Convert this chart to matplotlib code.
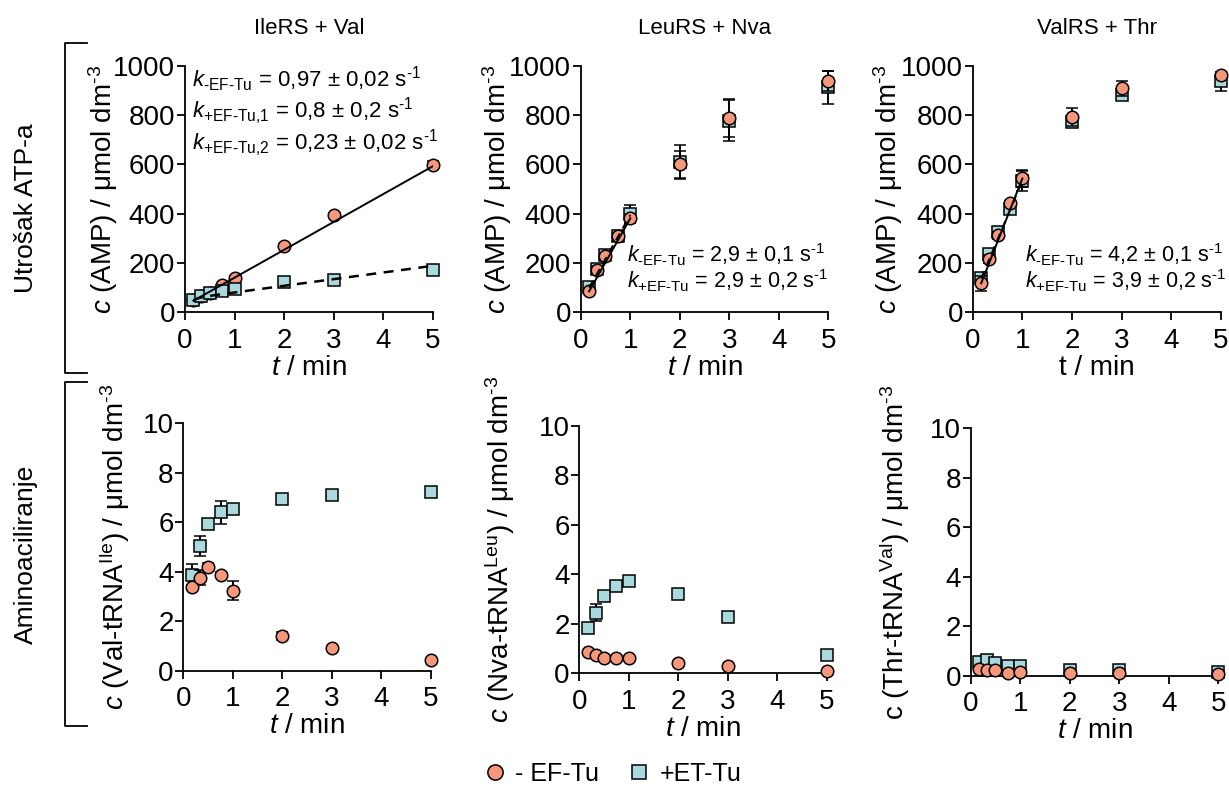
import numpy as np
import matplotlib

matplotlib.use("Agg")
import matplotlib.pyplot as plt

plt.rcParams["font.family"] = ["Liberation Sans", "DejaVu Sans"]
plt.rcParams["mathtext.fontset"] = "custom"
plt.rcParams["mathtext.rm"] = "Liberation Sans"
plt.rcParams["mathtext.it"] = "Liberation Sans:italic"
plt.rcParams["mathtext.bf"] = "Liberation Sans:bold"

# time points (min)
t = [0.17, 0.33, 0.5, 0.75, 1, 2, 3, 5]

# --- AMP formation (top row), umol dm-3 ---
ile_amp_minus = [50, 65, 80, 110, 141, 270, 393, 596]
ile_amp_minus_err = [4, 4, 4, 5, 6, 6, 6, 16]
ile_amp_plus = [50, 66, 80, 88, 96, 124, 131, 170]
ile_amp_plus_err = [4, 4, 4, 4, 6, 4, 8, 4]

leu_amp_minus = [85, 173, 227, 308, 381, 601, 788, 938]
leu_amp_minus_err = [10, 15, 15, 15, 20, 55, 78, 40]
leu_amp_plus = [105, 175, 232, 310, 398, 610, 777, 912]
leu_amp_plus_err = [12, 15, 15, 15, 36, 68, 83, 67]

val_amp_minus = [118, 216, 313, 443, 543, 791, 909, 963]
val_amp_minus_err = [30, 15, 15, 10, 35, 37, 30, 10]
val_amp_plus = [138, 236, 327, 419, 534, 773, 881, 937]
val_amp_plus_err = [15, 15, 15, 10, 40, 20, 20, 38]

# --- aminoacylation (bottom row), umol dm-3 ---
ile_aa_minus = [3.37, 3.76, 4.19, 3.87, 3.23, 1.40, 0.92, 0.44]
ile_aa_minus_err = [0.10, 0.30, 0.15, 0.10, 0.39, 0.15, 0.05, 0.05]
ile_aa_plus = [3.87, 5.05, 5.93, 6.40, 6.54, 6.95, 7.10, 7.22]
ile_aa_plus_err = [0.43, 0.41, 0.12, 0.47, 0.10, 0.10, 0.10, 0.10]

leu_aa_minus = [0.85, 0.74, 0.62, 0.61, 0.63, 0.40, 0.30, 0.08]
leu_aa_minus_err = [0.05, 0.12, 0.05, 0.05, 0.05, 0.05, 0.05, 0.05]
leu_aa_plus = [1.84, 2.45, 3.14, 3.54, 3.74, 3.22, 2.26, 0.74]
leu_aa_plus_err = [0.10, 0.33, 0.10, 0.10, 0.10, 0.12, 0.10, 0.10]

val_aa_minus = [0.28, 0.24, 0.23, 0.12, 0.15, 0.13, 0.09, 0.08]
val_aa_minus_err = [0.05, 0.05, 0.05, 0.05, 0.05, 0.05, 0.05, 0.05]
val_aa_plus = [0.54, 0.63, 0.51, 0.39, 0.39, 0.24, 0.23, 0.17]
val_aa_plus_err = [0.05, 0.05, 0.05, 0.05, 0.05, 0.05, 0.05, 0.05]

# fit parameters for the AMP lines
ile_fit_minus = (28, 113)          # intercept, slope
ile_fit_plus = (54, 10, 27)        # burst amplitude, burst rate, steady slope
leu_fit_minus = (25, 356)
leu_fit_plus = (40, 355)
val_fit_minus = (31, 512)
val_fit_plus = (57, 477)

titles = ["IleRS + Val", "LeuRS + Nva", "ValRS + Thr"]
rate_text = {
    0: [r"$\mathit{k}_{\text{-EF-Tu}}$ = 0,97 ± 0,02 s$^{\text{-1}}$",
        r"$\mathit{k}_{\text{+EF-Tu,1}}$ = 0,8 ± 0,2 s$^{\text{-1}}$",
        r"$\mathit{k}_{\text{+EF-Tu,2}}$ = 0,23 ± 0,02 s$^{\text{-1}}$"],
    1: [r"$\mathit{k}_{\text{-EF-Tu}}$ = 2,9 ± 0,1 s$^{\text{-1}}$",
        r"$\mathit{k}_{\text{+EF-Tu}}$ = 2,9 ± 0,2 s$^{\text{-1}}$"],
    2: [r"$\mathit{k}_{\text{-EF-Tu}}$ = 4,2 ± 0,1 s$^{\text{-1}}$",
        r"$\mathit{k}_{\text{+EF-Tu}}$ = 3,9 ± 0,2 s$^{\text{-1}}$"],
}

C_MINUS = "#F4977A"
C_PLUS = "#A9D9DC"
FS_TICK = 20
FS_LAB = 20
FS_TITLE = 16
FS_ANN = 16

W, H = 1229, 787
fig = plt.figure(figsize=(W / 100, H / 100), dpi=100)

# axes rectangles in figure fractions (left, bottom, width, height)
top_rects = [(0.1505, 0.6030, 0.2018, 0.3135),
             (0.4725, 0.6030, 0.2015, 0.3135),
             (0.7915, 0.6030, 0.2018, 0.3135)]
bot_rects = [(0.1492, 0.1478, 0.2015, 0.3144),
             (0.4714, 0.1445, 0.2015, 0.3144),
             (0.7898, 0.1414, 0.2015, 0.3144)]
# horizontal centre of each y label, in pixels
top_ylab_x = [103, 497, 888]
bot_ylab_x = [115, 500, 895]


def style(ax, ymax, yticks):
    ax.set_xlim(0, 5)
    ax.set_ylim(0, ymax)
    ax.set_xticks([0, 1, 2, 3, 4, 5])
    ax.set_yticks(yticks)
    for s in ("top", "right"):
        ax.spines[s].set_visible(False)
    for s in ("left", "bottom"):
        ax.spines[s].set_linewidth(1.3)
    ax.tick_params(labelsize=FS_TICK, width=1.3, length=6, direction="out")
    ax.tick_params(axis="x", pad=5)
    ax.tick_params(axis="y", pad=1)


def place_ylabel(ax, rect, text, x_px):
    ax.set_ylabel(text, fontsize=FS_LAB, va="center")
    left_px = rect[0] * W
    ax.yaxis.set_label_coords((x_px - left_px) / (rect[2] * W), 0.5)


def draw_points(ax, ym, yme, yp, ype, circles_on_top=True):
    zc, zs = (4, 3) if circles_on_top else (3, 4)
    ax.errorbar(t, yp, yerr=ype, fmt="s", ms=8.5, mfc=C_PLUS, mec="black",
                mew=1.1, ecolor="black", elinewidth=1.4, capsize=4,
                capthick=1.4, zorder=zs, clip_on=False)
    ax.errorbar(t, ym, yerr=yme, fmt="o", ms=9, mfc=C_MINUS, mec="black",
                mew=1.1, ecolor="black", elinewidth=1.4, capsize=4,
                capthick=1.4, zorder=zc, clip_on=False)


amp_sets = [
    (ile_amp_minus, ile_amp_minus_err, ile_amp_plus, ile_amp_plus_err),
    (leu_amp_minus, leu_amp_minus_err, leu_amp_plus, leu_amp_plus_err),
    (val_amp_minus, val_amp_minus_err, val_amp_plus, val_amp_plus_err),
]
aa_sets = [
    (ile_aa_minus, ile_aa_minus_err, ile_aa_plus, ile_aa_plus_err),
    (leu_aa_minus, leu_aa_minus_err, leu_aa_plus, leu_aa_plus_err),
    (val_aa_minus, val_aa_minus_err, val_aa_plus, val_aa_plus_err),
]
aa_ylabels = [
    r"$\mathit{c}$ (Val-tRNA$^{\text{Ile}}$) / μmol dm$^{\text{-3}}$",
    r"$\mathit{c}$ (Nva-tRNA$^{\text{Leu}}$) / μmol dm$^{\text{-3}}$",
    r"c (Thr-tRNA$^{\text{Val}}$) / μmol dm$^{\text{-3}}$",
]

# ---- top row ----
for i, rect in enumerate(top_rects):
    ax = fig.add_axes(rect)
    style(ax, 1000, [0, 200, 400, 600, 800, 1000])
    ym, yme, yp, ype = amp_sets[i]
    draw_points(ax, ym, yme, yp, ype, circles_on_top=(i != 0))

    if i == 0:
        tt = np.linspace(0.17, 5, 200)
        a, k = ile_fit_minus
        ax.plot(tt, a + k * tt, color="black", lw=1.4, zorder=5)
        amp, rate, v = ile_fit_plus
        ax.plot(tt, amp * (1 - np.exp(-rate * tt)) + v * tt, color="black",
                lw=1.8, ls=(0, (4, 3)), zorder=5)
    else:
        tt = np.linspace(0.17, 1, 50)
        fm, fp = (leu_fit_minus, leu_fit_plus) if i == 1 else (val_fit_minus, val_fit_plus)
        ax.plot(tt, fm[0] + fm[1] * tt, color="black", lw=1.4, zorder=5)
        ax.plot(tt, fp[0] + fp[1] * tt, color="black", lw=1.4,
                ls=(0, (4, 3)), zorder=5)

    if i == 0:
        for j, s in enumerate(rate_text[0]):
            ax.text(0.03, 0.945 - j * 0.13, s, transform=ax.transAxes,
                    fontsize=FS_ANN, va="center", ha="left")
    else:
        x0 = 0.186 if i == 1 else 0.211
        for j, s in enumerate(rate_text[i]):
            ax.text(x0, 0.235 - j * 0.105, s, transform=ax.transAxes,
                    fontsize=15.5, va="center", ha="left", zorder=6)

    place_ylabel(ax, rect, r"$\mathit{c}$ (AMP) / μmol dm$^{\text{-3}}$",
                 top_ylab_x[i])
    if i == 2:
        ax.set_xlabel("t / min", fontsize=FS_LAB, labelpad=1)
    else:
        ax.set_xlabel(r"$\mathit{t}$ / min", fontsize=FS_LAB, labelpad=1)
    fig.text(rect[0] + rect[2] / 2, 1 - 28 / H, titles[i], fontsize=FS_TITLE,
             ha="center", va="center")

# ---- bottom row ----
for i, rect in enumerate(bot_rects):
    ax = fig.add_axes(rect)
    style(ax, 10, [0, 2, 4, 6, 8, 10])
    ym, yme, yp, ype = aa_sets[i]
    draw_points(ax, ym, yme, yp, ype, circles_on_top=True)
    place_ylabel(ax, rect, aa_ylabels[i], bot_ylab_x[i])
    ax.set_xlabel(r"$\mathit{t}$ / min", fontsize=FS_LAB, labelpad=1)


# row brackets and labels
def bracket(y_top, y_bot):
    x_v, x_h = 65 / W, 87 / W
    yt, yb = 1 - y_top / H, 1 - y_bot / H
    fig.add_artist(plt.Line2D([x_h, x_v, x_v, x_h], [yt, yt, yb, yb],
                              color="black", lw=1.3, transform=fig.transFigure))


bracket(43, 373)
bracket(382, 726)
fig.text(26 / W, 1 - 208 / H, "Utrošak ATP-a", rotation=90, fontsize=19,
         ha="center", va="center")
fig.text(26 / W, 1 - 554 / H, "Aminoaciliranje", rotation=90, fontsize=19,
         ha="center", va="center")

# legend
h1 = plt.Line2D([], [], marker="o", ls="none", ms=11, mfc=C_MINUS,
                mec="black", mew=1.1)
h2 = plt.Line2D([], [], marker="s", ls="none", ms=10, mfc=C_PLUS,
                mec="black", mew=1.1)
fig.legend([h1, h2], ["- EF-Tu", "+ET-Tu"], loc="center",
           bbox_to_anchor=(0.497, 1 - 774 / H), ncol=2, frameon=False,
           fontsize=18, handletextpad=0.2, columnspacing=1.0,
           handlelength=1.2)

fig.savefig("out.png", dpi=100)
